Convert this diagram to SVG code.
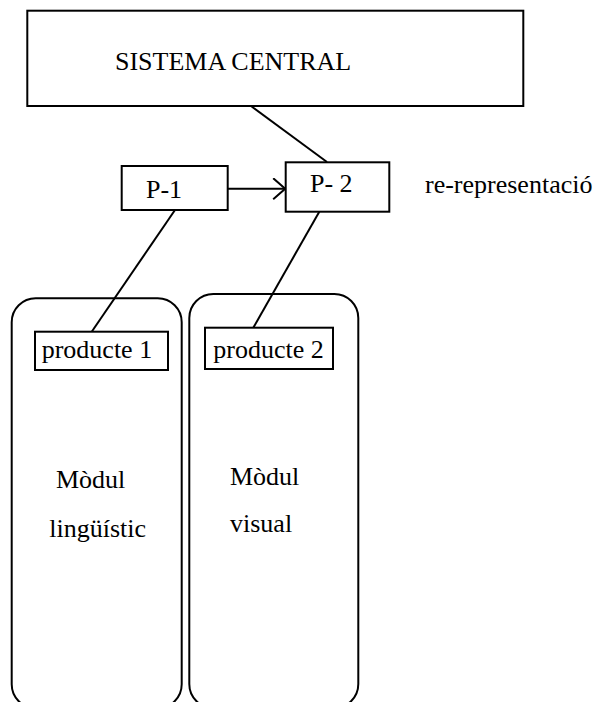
<svg xmlns="http://www.w3.org/2000/svg" width="596" height="702" viewBox="0 0 596 702">
  <style>
    .box { fill: #ffffff; stroke: #000000; stroke-width: 2; }
    .mod { fill: none; stroke: #000000; stroke-width: 2; }
    .link { fill: none; stroke: #000000; stroke-width: 2; }
    text { font-family: "Liberation Serif", "Times New Roman", serif; font-size: 26px; fill: #000000; }
  </style>
  <defs>
    <marker id="openArrow" markerUnits="userSpaceOnUse" markerWidth="16" markerHeight="24" refX="13" refY="11" orient="auto">
      <path d="M1,0.5 L13,11 L1,21.5" fill="none" stroke="#000000" stroke-width="2"/>
    </marker>
  </defs>
  <rect width="596" height="702" fill="#ffffff"/>

  <!-- modules (drawn first so the product boxes sit on top) -->
  <g id="modul-linguistic">
    <rect class="mod" x="11.7" y="298.3" width="170" height="410" rx="24" ry="24"/>
    <text x="56" y="488">Mòdul</text>
    <text x="49.3" y="536.7">lingüístic</text>
  </g>
  <g id="modul-visual">
    <rect class="mod" x="189.3" y="294" width="169" height="414" rx="24" ry="24"/>
    <text x="230" y="485">Mòdul</text>
    <text x="230" y="531.7">visual</text>
  </g>

  <!-- connectors -->
  <g id="connectors">
    <line class="link" x1="251" y1="106" x2="327" y2="162"/>
    <line class="link" x1="227.7" y1="188.7" x2="285.2" y2="188.7" marker-end="url(#openArrow)"/>
    <line class="link" x1="175" y1="210" x2="91.7" y2="331.7"/>
    <line class="link" x1="319.3" y1="211.7" x2="253.3" y2="327.7"/>
  </g>

  <g id="sistema-central">
    <rect class="box" x="27.3" y="10.7" width="496" height="95.3"/>
    <text x="115" y="70">SISTEMA CENTRAL</text>
  </g>

  <g id="p1">
    <rect class="box" x="121.7" y="166" width="106" height="44"/>
    <text x="146" y="197.7">P-1</text>
  </g>

  <g id="p2">
    <rect class="box" x="285.7" y="162.3" width="103.6" height="49.4"/>
    <text x="310" y="191.7">P- 2</text>
  </g>

  <g id="re-representacio">
    <text x="425" y="193.3">re-representació</text>
  </g>

  <g id="producte1">
    <rect class="box" x="35" y="331.7" width="133" height="38.3"/>
    <text x="41.7" y="358.3">producte 1</text>
  </g>

  <g id="producte2">
    <rect class="box" x="205" y="327.7" width="128" height="41.3"/>
    <text x="213.3" y="357.7">producte 2</text>
  </g>
</svg>
